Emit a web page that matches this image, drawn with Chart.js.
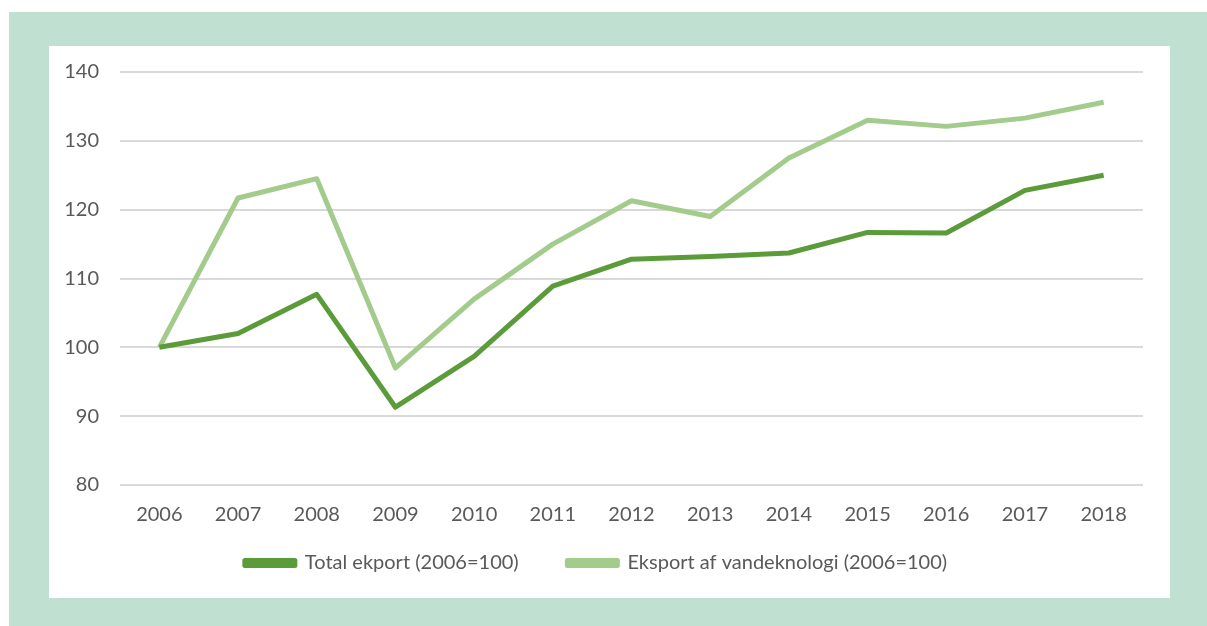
<!DOCTYPE html>
<html>
<head>
<meta charset="utf-8">
<script src="https://cdn.jsdelivr.net/npm/chart.js@4"></script>
<style>
    html, body { margin: 0; padding: 0; background: #fff; overflow: hidden; }
    body { width: 1207px; height: 626px; position: relative; }
    #frame {
        position: absolute; left: 9px; top: 12px; width: 1210px; height: 630px;
        background: #C0E1D2;
    }
    #panel {
        position: absolute; left: 49px; top: 46px; width: 1121px; height: 552px;
        background: #fff;
    }
</style>
</head>
<body>
<div id="frame"></div>
<div id="panel"><canvas id="chart" width="1121" height="552"></canvas></div>
<script>
// Years on the x axis
const years = ["2006", "2007", "2008", "2009", "2010", "2011", "2012",
    "2013", "2014", "2015", "2016", "2017", "2018"];

// Index values (2006 = 100)
const totalExport = [100, 102.0, 107.7, 91.3, 98.7, 108.9, 112.8,
    113.2, 113.7, 116.7, 116.6, 122.8, 125.0];
const waterTechExport = [100, 121.7, 124.5, 97.0, 107.0, 115.0, 121.3,
    119.0, 127.5, 133.0, 132.1, 133.3, 135.6];

const seriesNames = ["Total ekport (2006=100)", "Eksport af vandeknologi (2006=100)"];
const yTicks = [80, 90, 100, 110, 120, 130, 140];

const darkGreen = "#5C9B3A";
const lightGreen = "#A3CB8C";
const textColor = "#595959";
const fontFamily = "Lato, 'Open Sans', sans-serif";

const ctx = document.getElementById("chart").getContext("2d");

new Chart(ctx, {
    type: "line",
    data: {
        labels: years,
        datasets: [
            {
                label: seriesNames[0],
                data: totalExport,
                borderColor: darkGreen,
                backgroundColor: darkGreen,
                borderWidth: 5,
                pointRadius: 0,
                borderJoinStyle: "round",
                tension: 0,
            },
            {
                label: seriesNames[1],
                data: waterTechExport,
                borderColor: lightGreen,
                backgroundColor: lightGreen,
                borderWidth: 5,
                pointRadius: 0,
                borderJoinStyle: "round",
                tension: 0,
            },
        ],
    },
    options: {
        responsive: false,
        animation: false,
        layout: { padding: { left: 0, top: 26, right: 27, bottom: 15 } },
        plugins: {
            tooltip: { enabled: false },
            legend: {
                position: "bottom",
                labels: {
                    boxWidth: 50,
                    boxHeight: 5,
                    padding: 18,
                    color: textColor,
                    font: { family: fontFamily, size: 20 },
                    // trailing spaces widen the gap between the two items
                    generateLabels: (c) => {
                        const items = Chart.defaults.plugins.legend.labels.generateLabels(c);
                        items[0].text += "      ";
                        return items;
                    },
                },
            },
        },
        scales: {
            x: {
                offset: true,
                grid: { display: false, drawTicks: false },
                border: { display: false },
                ticks: {
                    color: textColor,
                    padding: 18,
                    maxRotation: 0,
                    font: { family: fontFamily, size: 20 },
                },
                afterFit: (scale) => { scale.height = 50; },
            },
            y: {
                min: yTicks[0],
                max: yTicks[yTicks.length - 1],
                grid: { color: "#D9D9D9", lineWidth: 2, drawTicks: false },
                border: { display: false },
                afterBuildTicks: (scale) => {
                    scale.ticks = yTicks.map((v) => ({ value: v }));
                },
                ticks: {
                    color: textColor,
                    padding: 21,
                    font: { family: fontFamily, size: 20 },
                },
                // fixed axis width, no extra room for the end labels
                afterFit: (scale) => {
                    scale.width = 71;
                    scale.paddingTop = 0;
                    scale.paddingBottom = 0;
                },
            },
        },
    },
});
</script>
</body>
</html>
